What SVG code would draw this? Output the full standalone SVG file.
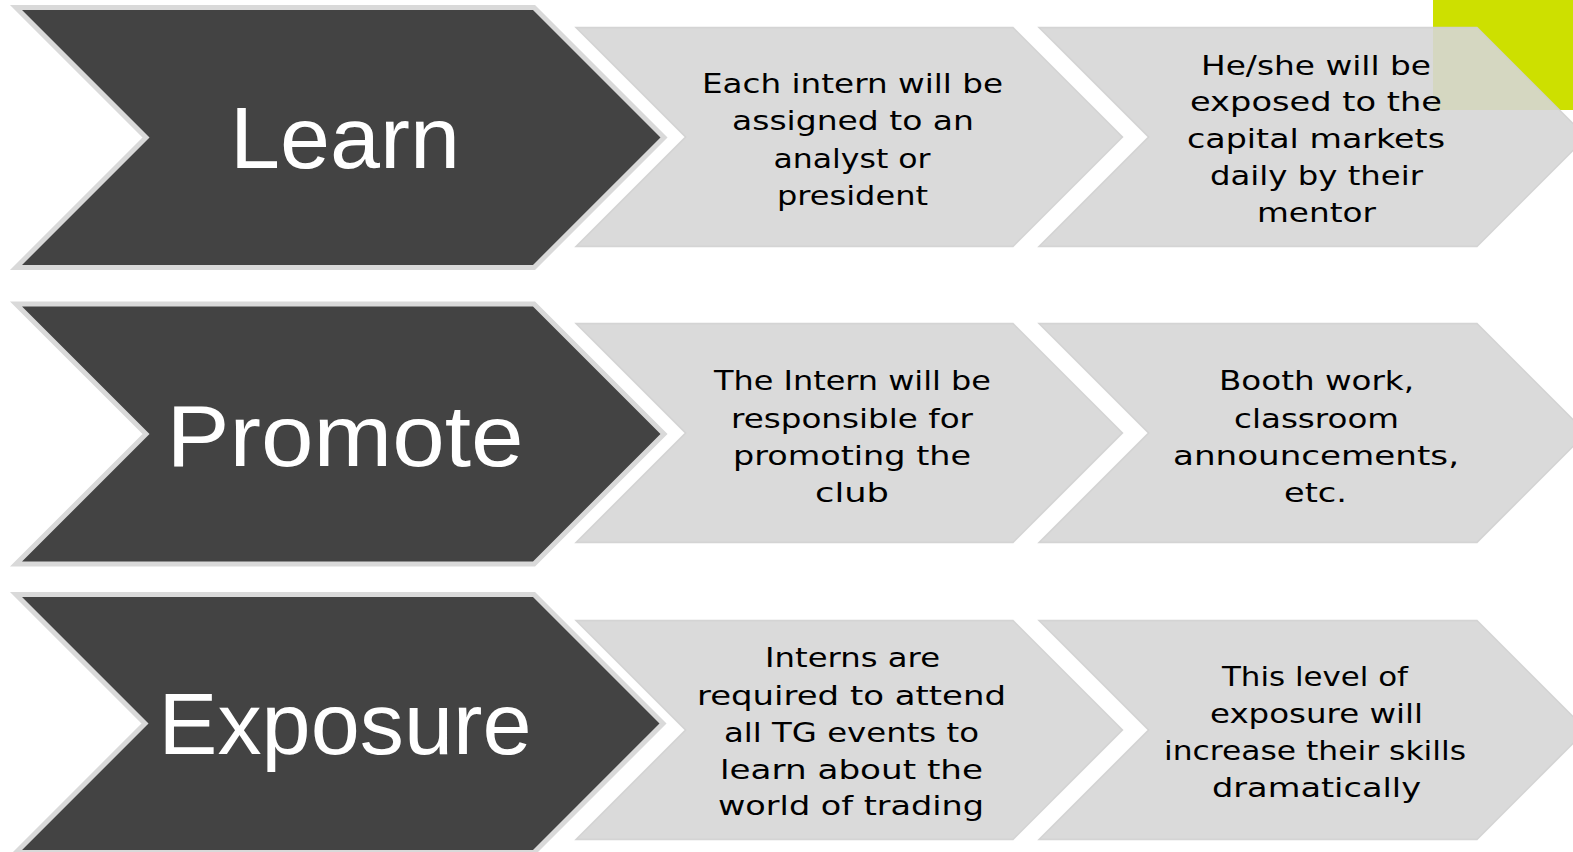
<svg xmlns="http://www.w3.org/2000/svg" width="1573" height="852" viewBox="0 0 1573 852">
<style>
.dark{fill:#434343;stroke:#d9d9d9;stroke-width:5;stroke-linejoin:miter}
.light{fill:#d6d6d6;fill-opacity:0.9;stroke:#d0d0d0;stroke-opacity:0.9;stroke-width:1.5}
.title{font-family:"Liberation Sans",Arial,sans-serif;font-size:88px;fill:#ffffff;text-anchor:middle}
.body{font-family:"DejaVu Sans",sans-serif;font-size:27px;fill:#000000;text-anchor:middle}
</style>
<rect x="0" y="0" width="1573" height="852" fill="#ffffff"/>
<rect id="accent" x="1433" y="0" width="140" height="110" fill="#cde000"/>
<g id="row1">
<g id="learn">
<path class="dark" d="M16,7.5 H534 L664,137.5 L534,267.5 H16 L146,137.5 Z"/>
<text class="title" x="345" y="168" textLength="230" lengthAdjust="spacingAndGlyphs">Learn</text>
</g>
<g id="learn-step1">
<path class="light" d="M576,27.5 H1013 L1122.5,137 L1013,246.5 H576 L685.5,137 Z"/>
<text class="body" x="852.5" y="92.5" textLength="301" lengthAdjust="spacingAndGlyphs">Each intern will be</text>
<text class="body" x="853" y="130" textLength="242" lengthAdjust="spacingAndGlyphs">assigned to an</text>
<text class="body" x="852" y="167.5" textLength="157" lengthAdjust="spacingAndGlyphs">analyst or</text>
<text class="body" x="852.5" y="204.5" textLength="151" lengthAdjust="spacingAndGlyphs">president</text>
</g>
<g id="learn-step2">
<path class="light" d="M1039,27.5 H1477 L1586.5,137 L1477,246.5 H1039 L1148.5,137 Z"/>
<text class="body" x="1316" y="74.5" textLength="230" lengthAdjust="spacingAndGlyphs">He/she will be</text>
<text class="body" x="1316" y="110.5" textLength="252" lengthAdjust="spacingAndGlyphs">exposed to the</text>
<text class="body" x="1316" y="147.5" textLength="258" lengthAdjust="spacingAndGlyphs">capital markets</text>
<text class="body" x="1316.5" y="184.5" textLength="213" lengthAdjust="spacingAndGlyphs">daily by their</text>
<text class="body" x="1316.5" y="221.5" textLength="119" lengthAdjust="spacingAndGlyphs">mentor</text>
</g>
</g>
<g id="row2">
<g id="promote">
<path class="dark" d="M16,304 H534 L664,434 L534,564 H16 L146,434 Z"/>
<text class="title" x="345" y="466" textLength="357" lengthAdjust="spacingAndGlyphs">Promote</text>
</g>
<g id="promote-step1">
<path class="light" d="M576,323.5 H1013 L1122.5,433 L1013,542.5 H576 L685.5,433 Z"/>
<text class="body" x="852.5" y="390" textLength="277" lengthAdjust="spacingAndGlyphs">The Intern will be</text>
<text class="body" x="852" y="427.5" textLength="242" lengthAdjust="spacingAndGlyphs">responsible for</text>
<text class="body" x="852" y="465" textLength="238" lengthAdjust="spacingAndGlyphs">promoting the</text>
<text class="body" x="852" y="501.5" textLength="74" lengthAdjust="spacingAndGlyphs">club</text>
</g>
<g id="promote-step2">
<path class="light" d="M1039,323.5 H1477 L1586.5,433 L1477,542.5 H1039 L1148.5,433 Z"/>
<text class="body" x="1316.5" y="390" textLength="195" lengthAdjust="spacingAndGlyphs">Booth work,</text>
<text class="body" x="1316.5" y="427.5" textLength="165" lengthAdjust="spacingAndGlyphs">classroom</text>
<text class="body" x="1316" y="465" textLength="286" lengthAdjust="spacingAndGlyphs">announcements,</text>
<text class="body" x="1315.5" y="501.5" textLength="63" lengthAdjust="spacingAndGlyphs">etc.</text>
</g>
</g>
<g id="row3">
<g id="exposure">
<path class="dark" d="M16,594.5 H534 L663,723.5 L534,852.5 H16 L145,723.5 Z"/>
<text class="title" x="345" y="754" textLength="373" lengthAdjust="spacingAndGlyphs">Exposure</text>
</g>
<g id="exposure-step1">
<path class="light" d="M576,620.5 H1013 L1122.5,730 L1013,839.5 H576 L685.5,730 Z"/>
<text class="body" x="852.5" y="667" textLength="175" lengthAdjust="spacingAndGlyphs">Interns are</text>
<text class="body" x="851.5" y="704.5" textLength="309" lengthAdjust="spacingAndGlyphs">required to attend</text>
<text class="body" x="851.5" y="741.5" textLength="255" lengthAdjust="spacingAndGlyphs">all TG events to</text>
<text class="body" x="851.5" y="778.5" textLength="263" lengthAdjust="spacingAndGlyphs">learn about the</text>
<text class="body" x="851" y="815" textLength="266" lengthAdjust="spacingAndGlyphs">world of trading</text>
</g>
<g id="exposure-step2">
<path class="light" d="M1039,620.5 H1477 L1586.5,730 L1477,839.5 H1039 L1148.5,730 Z"/>
<text class="body" x="1315" y="685.5" textLength="186" lengthAdjust="spacingAndGlyphs">This level of</text>
<text class="body" x="1316.5" y="722.5" textLength="213" lengthAdjust="spacingAndGlyphs">exposure will</text>
<text class="body" x="1315" y="759.5" textLength="302" lengthAdjust="spacingAndGlyphs">increase their skills</text>
<text class="body" x="1316.5" y="796.5" textLength="209" lengthAdjust="spacingAndGlyphs">dramatically</text>
</g>
</g>
<g id="connectors"/>
</svg>
